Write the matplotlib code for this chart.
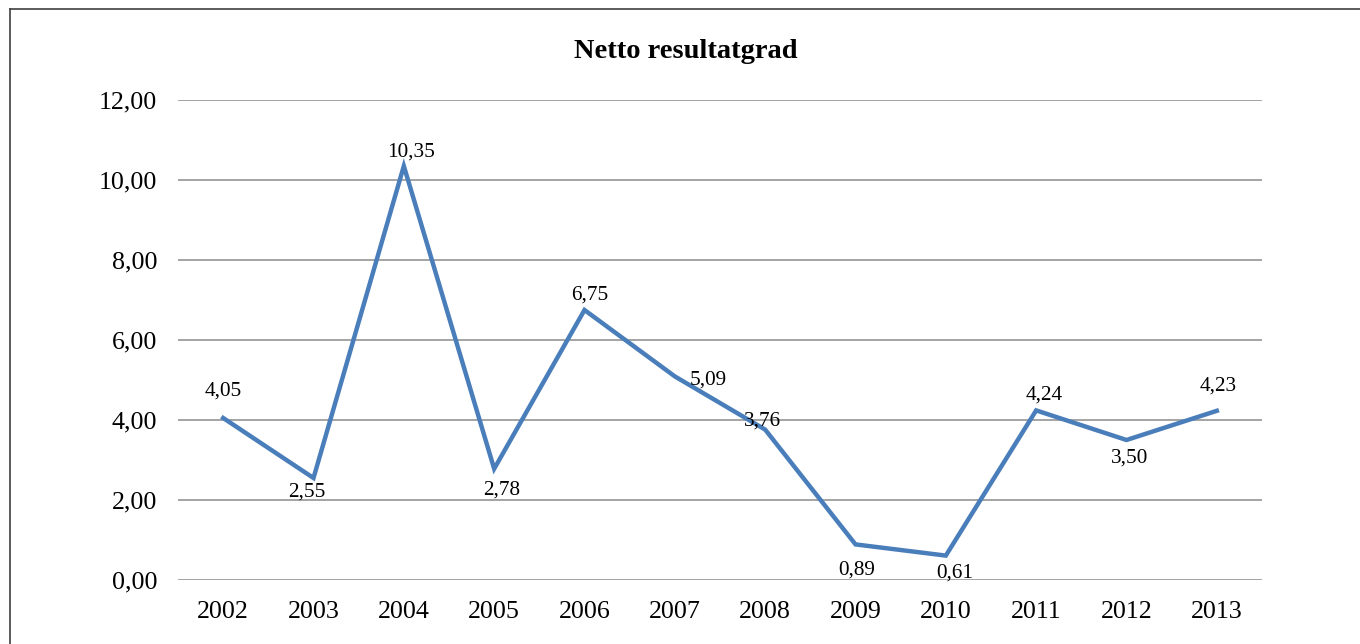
import matplotlib.pyplot as plt
from matplotlib.lines import Line2D

# data
years = ["2002", "2003", "2004", "2005", "2006", "2007",
         "2008", "2009", "2010", "2011", "2012", "2013"]
values = [4.05, 2.55, 10.35, 2.78, 6.75, 5.09, 3.76, 0.89, 0.61, 4.24, 3.50, 4.23]
y_ticks = [0, 2, 4, 6, 8, 10, 12]

# label offsets in pixels (dx, dy) relative to each point
label_offsets = [(0, 27), (-7, -14), (7, 14), (7, -21), (5, 15), (33, -4),
                 (-3, 9), (1, -26), (9, -17), (8, 15), (3, -18), (1, 25)]

plt.rcParams["font.family"] = ["Liberation Serif", "DejaVu Serif"]

fig = plt.figure(figsize=(13.6, 6.44), dpi=100)
ax = fig.add_axes([178 / 1360, 1 - 580 / 644, (1262 - 178) / 1360, 480 / 644])

x = list(range(len(years)))
ax.plot(x, values, color="#4A7EBB", linewidth=3.2, solid_joinstyle="miter", zorder=3)

for xi, v, (dx, dy) in zip(x, values, label_offsets):
    ax.annotate(f"{v:.2f}".replace(".", ","), (xi, v), xytext=(dx, dy),
                textcoords="offset pixels", ha="center", va="center",
                fontsize=15.3, color="black")

ax.set_xlim(-0.5, len(years) - 0.5)
ax.set_ylim(0, 12)
ax.set_yticks(y_ticks)
ax.set_yticklabels([f"{t:.2f}".replace(".", ",") for t in y_ticks])
ax.set_xticks(x)
ax.set_xticklabels(years)
ax.tick_params(axis="both", length=0, labelsize=18.7)
ax.tick_params(axis="y", pad=15)
ax.tick_params(axis="x", pad=15)
ax.yaxis.grid(True, color="#8C8C8C", linewidth=1.1)
ax.set_axisbelow(True)
for s in ax.spines.values():
    s.set_visible(False)

fig.text(686 / 1360, 1 - 52 / 644, "Netto resultatgrad", ha="center", va="center",
         fontsize=20.5, fontweight="bold")

# chart border (right and bottom edges fall outside the image)
fig.add_artist(Line2D([10 / 1360, 10 / 1360], [0, 1 - 9 / 644],
                      transform=fig.transFigure, color="#404040", linewidth=1.2))
fig.add_artist(Line2D([10 / 1360, 1], [1 - 9 / 644, 1 - 9 / 644],
                      transform=fig.transFigure, color="#404040", linewidth=1.2))

fig.savefig("out.png", dpi=100)
